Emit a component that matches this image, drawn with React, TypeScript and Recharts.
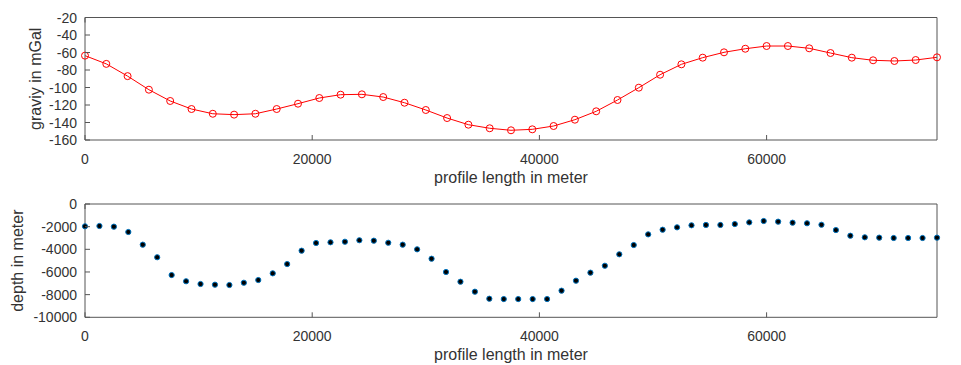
import { ComposedChart, Line, Scatter, XAxis, YAxis } from 'recharts';

// gravity profile, sampled every 1875 m
const gravitySpacing = 1875;
const gravity = [
  -63.6, -73, -87, -102.5, -115.4, -124.6, -130, -131, -130, -124.6,
  -118.5, -112, -108.2, -107.8, -110.9, -117.4, -125.7, -134.9, -142.5, -146.6,
  -148.9, -147.8, -144, -136.8, -127.2, -114.3, -100.2, -85.4, -73.5, -65.9,
  -59.8, -55.7, -52.6, -52.6, -55.2, -60.6, -65.9, -68.9, -69.7, -68.6,
  -65.5,
];

// inverted depth, 60 stations over the 75 km profile
const depthSpacing = 75000 / 59;
const depth = [
  -1970, -1940, -2000, -2470, -3590, -4700, -6270, -6820, -7060, -7120,
  -7150, -6950, -6710, -6120, -5300, -4120, -3440, -3380, -3330, -3200,
  -3240, -3420, -3590, -4000, -4830, -6000, -6860, -7740, -8360, -8390,
  -8390, -8390, -8390, -7650, -6770, -6060, -5450, -4440, -3620, -2680,
  -2270, -2060, -1880, -1850, -1850, -1770, -1620, -1500, -1560, -1650,
  -1700, -1830, -2300, -2800, -2940, -2970, -3000, -3000, -3000, -2970,
];

const xTicks = [0, 20000, 40000, 60000];
const gravityTicks = [-160, -140, -120, -100, -80, -60, -40, -20];
const depthTicks = [-10000, -8000, -6000, -4000, -2000, 0];

const gravityData = gravity.map((g, i) => ({ x: i * gravitySpacing, g }));
const depthData = depth.map((d, i) => ({ x: i * depthSpacing, d }));

const AX = '#555';
const TXT = '#333';
const FONT = '"Liberation Sans", Arial, sans-serif';
const TICK = 5;

// ticks point inward, labels sit outside the box
const BottomTick = ({ x, y, payload }: any) => (
  <g>
    <line x1={x} x2={x} y1={y} y2={y - TICK} stroke={AX} />
    <text x={x} y={y + 19} textAnchor="middle" dominantBaseline="central" fill={TXT} fontSize={14} fontFamily={FONT}>
      {payload.value}
    </text>
  </g>
);
const TopTick = ({ x, y }: any) => <line x1={x} x2={x} y1={y} y2={y + TICK} stroke={AX} />;
const LeftTick = ({ x, y, payload }: any) => (
  <g>
    <line x1={x} x2={x + TICK} y1={y} y2={y} stroke={AX} />
    <text x={x - 8} y={y} textAnchor="end" dominantBaseline="central" fill={TXT} fontSize={14} fontFamily={FONT}>
      {payload.value}
    </text>
  </g>
);
const RightTick = ({ x, y }: any) => <line x1={x} x2={x - TICK} y1={y} y2={y} stroke={AX} />;

const xLabel = (props: any) => {
  const vb = props.viewBox;
  return (
    <text x={vb.x + vb.width / 2} y={vb.y + 37} textAnchor="middle" dominantBaseline="central" fill={TXT} fontSize={16} fontFamily={FONT}>
      profile length in meter
    </text>
  );
};

const yLabel = (text: string, lx: number) => (props: any) => {
  const vb = props.viewBox;
  const cy = vb.y + vb.height / 2;
  return (
    <text x={lx} y={cy} transform={`rotate(-90 ${lx} ${cy})`} textAnchor="middle" dominantBaseline="central" fill={TXT} fontSize={16} fontFamily={FONT}>
      {text}
    </text>
  );
};

export default function App() {
  return (
    <div style={{ position: 'absolute', left: 0, top: 0, width: 961, height: 365, background: '#fff' }}>
      <div style={{ position: 'absolute', left: 0, top: 0 }}>
        <ComposedChart width={961} height={190} data={gravityData} margin={{ top: 16.5, right: 23, bottom: 0, left: 0 }}>
          <XAxis
            xAxisId="b"
            dataKey="x"
            type="number"
            domain={[0, 75000]}
            ticks={xTicks}
            interval={0}
            height={50}
            tickSize={0}
            tickMargin={0}
            tickLine={false}
            axisLine={{ stroke: AX }}
            tick={<BottomTick />}
            label={{ content: xLabel }}
          />
          {/* top and right axes only close the box */}
          <XAxis
            xAxisId="t"
            orientation="top"
            type="number"
            domain={[0, 75000]}
            ticks={xTicks}
            interval={0}
            height={1}
            tickSize={0}
            tickMargin={0}
            tickLine={false}
            axisLine={{ stroke: AX }}
            tick={<TopTick />}
          />
          <YAxis
            yAxisId="l"
            type="number"
            domain={[-160, -20]}
            ticks={gravityTicks}
            interval={0}
            width={85}
            tickSize={0}
            tickMargin={0}
            tickLine={false}
            axisLine={{ stroke: AX }}
            tick={<LeftTick />}
            label={{ content: yLabel('graviy in mGal', 35) }}
          />
          <YAxis
            yAxisId="r"
            orientation="right"
            type="number"
            domain={[-160, -20]}
            ticks={gravityTicks}
            interval={0}
            width={1}
            tickSize={0}
            tickMargin={0}
            tickLine={false}
            axisLine={{ stroke: AX }}
            tick={<RightTick />}
          />
          <Line
            xAxisId="b"
            yAxisId="l"
            dataKey="g"
            type="linear"
            stroke="#ff0000"
            strokeWidth={1}
            dot={{ r: 3.5, stroke: '#ff0000', strokeWidth: 1, fill: 'none' }}
            activeDot={false}
            isAnimationActive={false}
          />
        </ComposedChart>
      </div>
      <div style={{ position: 'absolute', left: 0, top: 185 }}>
        <ComposedChart width={961} height={180} data={depthData} margin={{ top: 18, right: 23, bottom: 0, left: 0 }}>
          <XAxis
            xAxisId="b"
            dataKey="x"
            type="number"
            domain={[0, 75000]}
            ticks={xTicks}
            interval={0}
            height={47.7}
            tickSize={0}
            tickMargin={0}
            tickLine={false}
            axisLine={{ stroke: AX }}
            tick={<BottomTick />}
            label={{ content: xLabel }}
          />
          <XAxis
            xAxisId="t"
            orientation="top"
            type="number"
            domain={[0, 75000]}
            ticks={xTicks}
            interval={0}
            height={1}
            tickSize={0}
            tickMargin={0}
            tickLine={false}
            axisLine={{ stroke: AX }}
            tick={<TopTick />}
          />
          <YAxis
            yAxisId="l"
            type="number"
            domain={[-10000, 0]}
            ticks={depthTicks}
            interval={0}
            width={85}
            tickSize={0}
            tickMargin={0}
            tickLine={false}
            axisLine={{ stroke: AX }}
            tick={<LeftTick />}
            label={{ content: yLabel('depth in meter', 18) }}
          />
          <YAxis
            yAxisId="r"
            orientation="right"
            type="number"
            domain={[-10000, 0]}
            ticks={depthTicks}
            interval={0}
            width={1}
            tickSize={0}
            tickMargin={0}
            tickLine={false}
            axisLine={{ stroke: AX }}
            tick={<RightTick />}
          />
          <Scatter
            xAxisId="b"
            yAxisId="l"
            dataKey="d"
            shape={(p: any) => <circle cx={p.cx} cy={p.cy} r={2.6} fill="#000" stroke="#0072bd" strokeWidth={1} />}
            isAnimationActive={false}
          />
        </ComposedChart>
      </div>
    </div>
  );
}
